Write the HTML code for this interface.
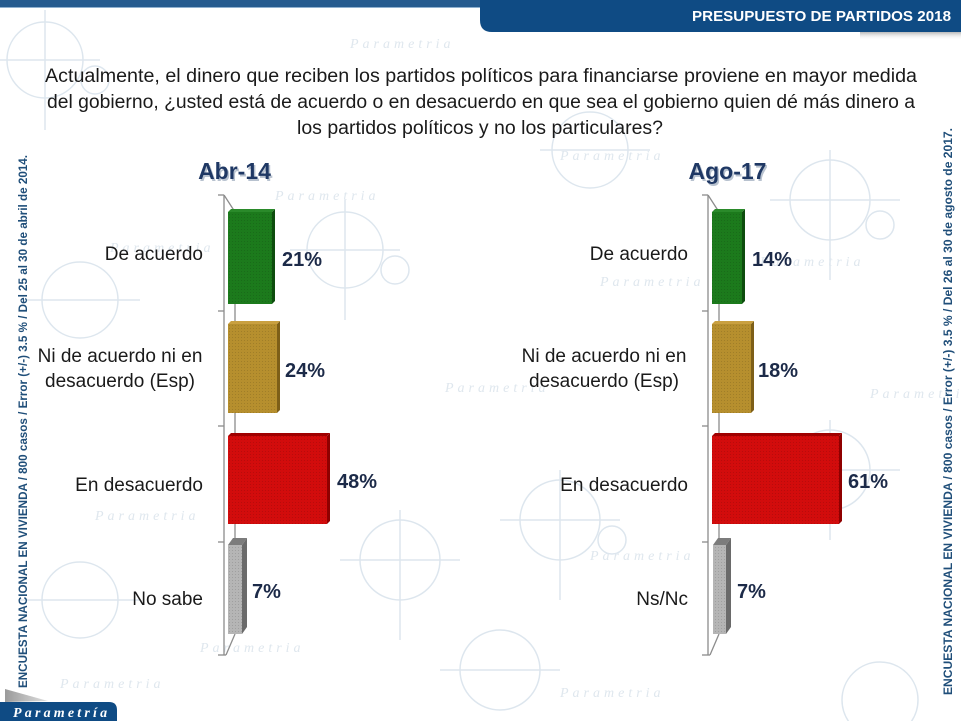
<!DOCTYPE html>
<html>
<head>
<meta charset="utf-8">
<style>
html,body{margin:0;padding:0;background:#fff;}
svg{display:block;}
</style>
</head>
<body>
<svg width="961" height="721" viewBox="0 0 961 721" xmlns="http://www.w3.org/2000/svg">
<defs>
<pattern id="dots" width="3" height="3" patternUnits="userSpaceOnUse">
<rect width="3" height="3" fill="none"/>
<rect x="1" y="1" width="1" height="1" fill="#000" opacity="0.12"/>
</pattern>
<linearGradient id="wedge" x1="0" y1="0" x2="1" y2="0">
<stop offset="0" stop-color="#9a9a9a"/>
<stop offset="1" stop-color="#e0e0e0"/>
</linearGradient>
<linearGradient id="shad" x1="0" y1="0" x2="0" y2="1">
<stop offset="0" stop-color="#8a8a8a"/>
<stop offset="1" stop-color="#ffffff" stop-opacity="0"/>
</linearGradient>
</defs>
<rect width="961" height="721" fill="#fff"/>

<!-- watermark -->
<g stroke="#dde6ee" stroke-width="1.5" fill="none">
<circle cx="45" cy="60" r="38"/><line x1="0" y1="60" x2="100" y2="60"/><line x1="45" y1="10" x2="45" y2="130"/>
<circle cx="95" cy="80" r="14"/>
<circle cx="345" cy="250" r="38"/><line x1="290" y1="250" x2="400" y2="250"/><line x1="345" y1="200" x2="345" y2="320"/>
<circle cx="395" cy="270" r="14"/>
<circle cx="830" cy="200" r="40"/><line x1="770" y1="200" x2="900" y2="200"/><line x1="830" y1="150" x2="830" y2="280"/>
<circle cx="880" cy="225" r="14"/>
<circle cx="560" cy="520" r="40"/><line x1="500" y1="520" x2="620" y2="520"/><line x1="560" y1="470" x2="560" y2="600"/>
<circle cx="612" cy="540" r="14"/>
<circle cx="400" cy="560" r="40"/><line x1="340" y1="560" x2="460" y2="560"/><line x1="400" y1="510" x2="400" y2="640"/>
<circle cx="830" cy="470" r="40"/><line x1="770" y1="470" x2="900" y2="470"/><line x1="830" y1="420" x2="830" y2="540"/>
<circle cx="500" cy="670" r="40"/><line x1="440" y1="670" x2="560" y2="670"/>
<circle cx="80" cy="600" r="38"/><line x1="20" y1="600" x2="140" y2="600"/>
<circle cx="80" cy="300" r="38"/><line x1="20" y1="300" x2="140" y2="300"/>
<circle cx="880" cy="700" r="38"/>
<circle cx="590" cy="150" r="38"/><line x1="540" y1="150" x2="650" y2="150"/>
</g>
<g fill="#dfe7ee" font-family="Liberation Serif, serif" font-style="italic" font-size="14" letter-spacing="4">
<text x="350" y="48">Parametria</text>
<text x="560" y="160">Parametria</text>
<text x="275" y="200">Parametria</text>
<text x="110" y="252">Parametria</text>
<text x="600" y="286">Parametria</text>
<text x="760" y="266">Parametria</text>
<text x="445" y="392">Parametria</text>
<text x="870" y="398">Parametria</text>
<text x="95" y="520">Parametria</text>
<text x="590" y="560">Parametria</text>
<text x="200" y="652">Parametria</text>
<text x="560" y="697">Parametria</text>
<text x="60" y="688">Parametria</text>
</g>

<!-- header -->
<rect x="0" y="0" width="961" height="7" fill="#265b8f"/>
<line x1="0" y1="7.5" x2="961" y2="7.5" stroke="#8fb0cf" stroke-width="1"/>
<rect x="860" y="32" width="101" height="8" fill="url(#shad)" opacity="0.6"/>
<path d="M480 0 H961 V32 H492 Q480 32 480 20 Z" fill="#0f4b84"/>
<text x="692" y="21" textLength="259" lengthAdjust="spacingAndGlyphs" font-family="Liberation Sans, sans-serif" font-weight="bold" font-size="15" fill="#fff">PRESUPUESTO DE PARTIDOS 2018</text>

<!-- question -->
<g font-family="Liberation Sans, sans-serif" font-size="19" fill="#1a1a1a">
<text x="45" y="82" textLength="872" lengthAdjust="spacingAndGlyphs">Actualmente, el dinero que reciben los partidos políticos para financiarse proviene en mayor medida</text>
<text x="47" y="108" textLength="868" lengthAdjust="spacingAndGlyphs">del gobierno, ¿usted está de acuerdo o en desacuerdo en que sea el gobierno quien dé más dinero a</text>
<text x="297" y="134" textLength="366" lengthAdjust="spacingAndGlyphs">los partidos políticos y no los particulares?</text>
</g>

<!-- side texts -->
<g font-family="Liberation Sans, sans-serif" font-weight="bold" font-size="12" fill="#1f4e79">
<text transform="translate(27,688) rotate(-90)" textLength="533" lengthAdjust="spacingAndGlyphs">ENCUESTA NACIONAL EN VIVIENDA / 800 casos / Error (+/-) 3.5 % / Del 25 al 30 de abril de 2014.</text>
<text transform="translate(952,695) rotate(-90)" textLength="567" lengthAdjust="spacingAndGlyphs">ENCUESTA NACIONAL EN VIVIENDA / 800 casos / Error (+/-) 3.5 % / Del 26 al 30 de agosto de 2017.</text>
</g>

<!-- titles -->
<g font-family="Liberation Sans, sans-serif" font-weight="bold" font-size="23" text-anchor="middle">
<text x="236" y="181" fill="#b8c2cf">Abr-14</text>
<text x="234.5" y="179" fill="#1f3864">Abr-14</text>
<text x="729" y="181" fill="#b8c2cf">Ago-17</text>
<text x="727.5" y="179" fill="#1f3864">Ago-17</text>
</g>

<!-- LEFT CHART axes -->
<g stroke="#8c8c8c" stroke-width="1.3" fill="none">
<line x1="224" y1="195" x2="224" y2="655"/>
<line x1="218" y1="195" x2="224" y2="195"/>
<line x1="218" y1="311" x2="224" y2="311"/>
<line x1="218" y1="426" x2="224" y2="426"/>
<line x1="218" y1="542" x2="224" y2="542"/>
<line x1="218" y1="655" x2="226" y2="655"/>
<line x1="224" y1="195" x2="235" y2="212"/>
<line x1="235" y1="212" x2="235" y2="634"/>
<line x1="235" y1="634" x2="226" y2="655"/>
</g>
<!-- RIGHT CHART axes -->
<g stroke="#8c8c8c" stroke-width="1.3" fill="none">
<line x1="708" y1="195" x2="708" y2="655"/>
<line x1="702" y1="195" x2="708" y2="195"/>
<line x1="702" y1="311" x2="708" y2="311"/>
<line x1="702" y1="426" x2="708" y2="426"/>
<line x1="702" y1="542" x2="708" y2="542"/>
<line x1="702" y1="655" x2="710" y2="655"/>
<line x1="708" y1="195" x2="719" y2="212"/>
<line x1="719" y1="212" x2="719" y2="634"/>
<line x1="719" y1="634" x2="710" y2="655"/>
</g>

<!-- LEFT bars -->
<!-- green -->
<polygon points="272,212 275,209 275,301 272,304" fill="#0e4d0e"/>
<polygon points="228,212 231,209 275,209 272,212" fill="#2a8a2a"/>
<rect x="228" y="212" width="44" height="92" fill="#1c7a1c"/>
<rect x="228" y="212" width="44" height="92" fill="url(#dots)"/>
<!-- gold -->
<polygon points="277,324 280,321 280,410 277,413" fill="#7d5f18"/>
<polygon points="228,324 231,321 280,321 277,324" fill="#c9a040"/>
<rect x="228" y="324" width="49" height="89" fill="#b68f2e"/>
<rect x="228" y="324" width="49" height="89" fill="url(#dots)"/>
<!-- red -->
<polygon points="327,436 330,433 330,521 327,524" fill="#8f0000"/>
<polygon points="228,436 231,433 330,433 327,436" fill="#a00000"/>
<rect x="228" y="436" width="99" height="88" fill="#d20c0c"/>
<rect x="228" y="436" width="99" height="88" fill="url(#dots)"/>
<!-- gray -->
<polygon points="242,545 247,538 247,627 242,634" fill="#6a6a6a"/>
<polygon points="228,545 233,538 247,538 242,545" fill="#7c7c7c"/>
<rect x="228" y="545" width="14" height="89" fill="#b5b5b5"/>
<rect x="228" y="545" width="14" height="89" fill="url(#dots)"/>

<!-- RIGHT bars -->
<polygon points="742,212 745,209 745,301 742,304" fill="#0e4d0e"/>
<polygon points="712,212 715,209 745,209 742,212" fill="#2a8a2a"/>
<rect x="712" y="212" width="30" height="92" fill="#1c7a1c"/>
<rect x="712" y="212" width="30" height="92" fill="url(#dots)"/>
<polygon points="751,324 754,321 754,410 751,413" fill="#7d5f18"/>
<polygon points="712,324 715,321 754,321 751,324" fill="#c9a040"/>
<rect x="712" y="324" width="39" height="89" fill="#b68f2e"/>
<rect x="712" y="324" width="39" height="89" fill="url(#dots)"/>
<polygon points="839,436 842,433 842,521 839,524" fill="#8f0000"/>
<polygon points="712,436 715,433 842,433 839,436" fill="#a00000"/>
<rect x="712" y="436" width="127" height="88" fill="#d20c0c"/>
<rect x="712" y="436" width="127" height="88" fill="url(#dots)"/>
<polygon points="726,545 731,538 731,627 726,634" fill="#6a6a6a"/>
<polygon points="713,545 718,538 731,538 726,545" fill="#7c7c7c"/>
<rect x="713" y="545" width="13" height="89" fill="#b5b5b5"/>
<rect x="713" y="545" width="13" height="89" fill="url(#dots)"/>

<!-- category labels -->
<g font-family="Liberation Sans, sans-serif" font-size="19" fill="#1a1a1a">
<text x="203" y="260" text-anchor="end">De acuerdo</text>
<text x="120" y="362" text-anchor="middle">Ni de acuerdo ni en</text>
<text x="120" y="387" text-anchor="middle">desacuerdo (Esp)</text>
<text x="203" y="491" text-anchor="end">En desacuerdo</text>
<text x="203" y="605" text-anchor="end">No sabe</text>

<text x="688" y="260" text-anchor="end">De acuerdo</text>
<text x="604" y="362" text-anchor="middle">Ni de acuerdo ni en</text>
<text x="604" y="387" text-anchor="middle">desacuerdo (Esp)</text>
<text x="688" y="491" text-anchor="end">En desacuerdo</text>
<text x="688" y="605" text-anchor="end">Ns/Nc</text>
</g>

<!-- value labels -->
<g font-family="Liberation Sans, sans-serif" font-weight="bold" font-size="20" fill="#1c2a48">
<text x="282" y="266">21%</text>
<text x="285" y="377">24%</text>
<text x="337" y="488">48%</text>
<text x="252" y="598">7%</text>
<text x="752" y="266">14%</text>
<text x="758" y="377">18%</text>
<text x="848" y="488">61%</text>
<text x="737" y="598">7%</text>
</g>

<!-- logo -->
<polygon points="5,689 48,701 5,702" fill="url(#wedge)"/>
<path d="M0 702 H109 Q117 702 117 710 V721 H0 Z" fill="#0f4b84"/>
<text x="13" y="717" font-family="Liberation Serif, serif" font-style="italic" font-weight="bold" font-size="14" letter-spacing="3.2" fill="#fff">Parametría</text>
</svg>
</body>
</html>
